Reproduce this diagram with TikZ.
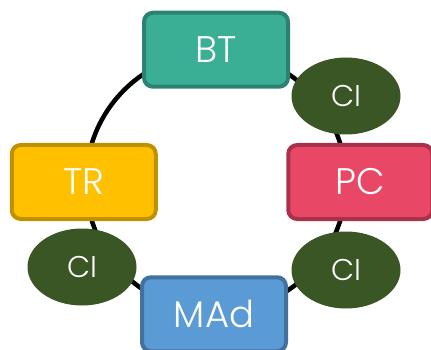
\documentclass[tikz,border=0pt]{standalone}
\usepackage{fontspec}
\setmainfont{Poppins Light}
\usetikzlibrary{shapes.geometric}

\definecolor{btfill}{HTML}{3BAF96}
\definecolor{btline}{HTML}{2C8270}
\definecolor{pcfill}{HTML}{E84866}
\definecolor{pcline}{HTML}{A8324B}
\definecolor{trfill}{HTML}{FFC000}
\definecolor{trline}{HTML}{BF9000}
\definecolor{madfill}{HTML}{5B9BD5}
\definecolor{madline}{HTML}{41719C}
\definecolor{cifill}{HTML}{3A5624}

\tikzset{
  stage/.style={draw, line width=4pt, rounded corners=9pt,
    minimum width=144pt, minimum height=74pt,
    text=white, font=\fontsize{37}{37}\selectfont},
  cinode/.style={ellipse, fill=cifill, minimum width=109pt,
    minimum height=77pt, text=white, font=\fontsize{30}{30}\selectfont}
}

\begin{document}
\begin{tikzpicture}[x=1pt,y=-1pt]
\useasboundingbox (0,0) rectangle (431,350);
% the cycle everything sits on
\node[circle, draw, line width=4.5pt, minimum size=260pt] (ring) at (216,182) {};
\node[stage, fill=btfill, draw=btline] (bt) at (ring.north) {BT};
\node[stage, fill=pcfill, draw=pcline] (pc) at ([xshift=12pt]ring.east) {PC};
\node[stage, fill=trfill, draw=trline] (tr) at (ring.west) {TR};
\node[stage, fill=madfill, draw=madline] (mad) at ([xshift=-2pt]ring.south) {MAd};
\node[cinode] (ci1) at (346,96) {CI};
\node[cinode] (ci2) at (346,270) {CI};
\node[cinode] (ci3) at (82,267) {CI};
\end{tikzpicture}
\end{document}
